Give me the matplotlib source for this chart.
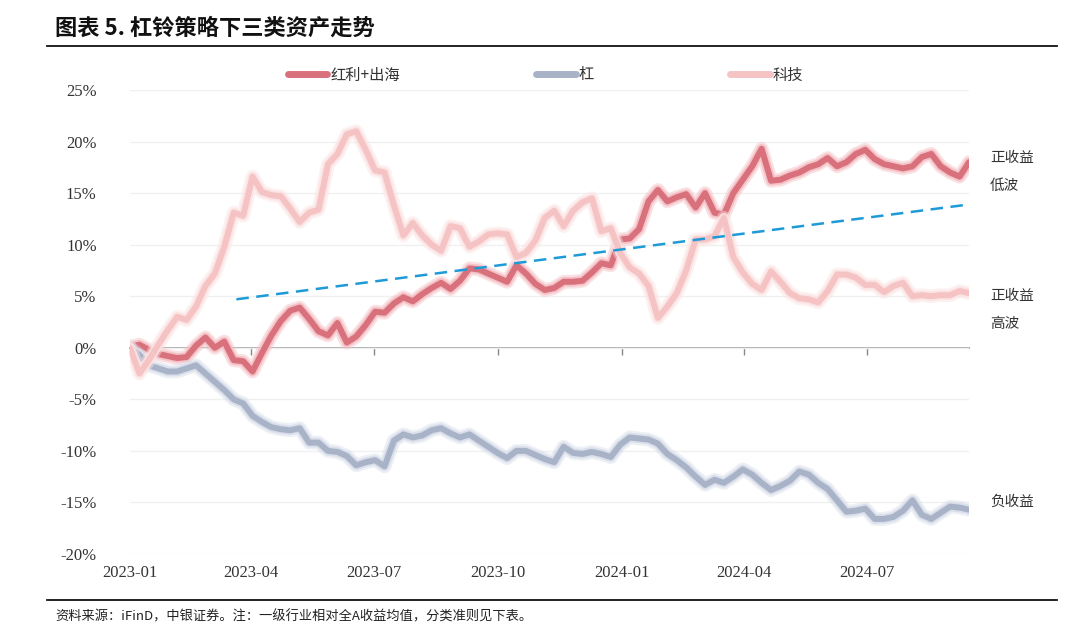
import matplotlib
matplotlib.use('Agg')
import matplotlib.pyplot as plt
import matplotlib.dates as mdates
from matplotlib.lines import Line2D
import pandas as pd

plt.rcParams['font.family'] = ['Noto Sans CJK SC', 'DejaVu Sans']

# weekly data, % excess return
start_date = '2023-01-01'

dividend_export = [
    0.1, 0.3, -0.2, -0.6, -0.8, -1.0, -0.9, 0.2, 1.0, 0.0,
    0.6, -1.2, -1.3, -2.3, -0.5, 1.2, 2.6, 3.6, 3.9, 2.8,
    1.6, 1.2, 2.4, 0.5, 1.1, 2.2, 3.5, 3.4, 4.3, 4.9,
    4.5, 5.2, 5.8, 6.3, 5.7, 6.5, 7.7, 7.6, 7.2, 6.8,
    6.4, 8.0, 7.2, 6.2, 5.6, 5.8, 6.4, 6.4, 6.5, 7.3,
    8.2, 8.0, 10.5, 10.6, 11.5, 14.2, 15.3, 14.2, 14.6, 14.9,
    13.6, 15.0, 13.1, 12.9, 15.0, 16.3, 17.6, 19.3, 16.2, 16.3,
    16.7, 17.0, 17.5, 17.8, 18.4, 17.6, 18.0, 18.8, 19.2, 18.3,
    17.8, 17.6, 17.4, 17.6, 18.5, 18.8, 17.6, 17.0, 16.6, 18.0,
]

leverage = [
    0.0, -0.7, -1.7, -2.0, -2.3, -2.3, -2.0, -1.7, -2.5, -3.3,
    -4.1, -5.0, -5.4, -6.6, -7.2, -7.7, -7.9, -8.0, -7.8, -9.2,
    -9.2, -10.0, -10.1, -10.5, -11.4, -11.1, -10.9, -11.5, -9.0, -8.4,
    -8.7, -8.5, -8.0, -7.8, -8.3, -8.7, -8.4, -9.0, -9.6, -10.2,
    -10.7, -10.0, -10.0, -10.4, -10.8, -11.1, -9.6, -10.2, -10.3, -10.1,
    -10.3, -10.6, -9.4, -8.7, -8.8, -8.9, -9.3, -10.3, -10.9, -11.6,
    -12.5, -13.3, -12.8, -13.1, -12.5, -11.8, -12.3, -13.1, -13.8, -13.4,
    -12.9, -12.0, -12.3, -13.1, -13.7, -14.8, -15.9, -15.8, -15.6, -16.6,
    -16.6, -16.4, -15.8, -14.8, -16.2, -16.6, -16.0, -15.4, -15.5, -15.7,
]

tech = [
    0.0, -2.5, -1.2, 0.3, 1.7, 3.0, 2.7, 4.0, 6.0, 7.2,
    9.8, 13.1, 12.8, 16.6, 15.1, 14.8, 14.7, 13.5, 12.2, 13.1,
    13.4, 17.8, 18.8, 20.7, 21.0, 19.2, 17.2, 17.0, 13.8, 10.9,
    12.1, 10.9, 10.0, 9.4, 11.8, 11.6, 9.8, 10.3, 11.0, 11.1,
    11.0, 8.8, 9.2, 10.4, 12.6, 13.3, 11.8, 13.3, 14.1, 14.5,
    11.3, 11.6, 9.2, 7.8, 7.2, 6.0, 2.9, 4.0, 5.3, 7.5,
    10.5, 10.5, 10.8, 12.6, 8.8, 7.3, 6.2, 5.6, 7.4, 6.4,
    5.3, 4.8, 4.7, 4.4, 5.5, 7.1, 7.1, 6.8, 6.1, 6.1,
    5.4, 6.0, 6.3, 5.0, 5.1, 5.0, 5.1, 5.1, 5.5, 5.3,
]

trend_dates = ['2023-03-21', '2024-09-15']
trend_vals = [4.7, 13.9]

series_names = ['红利+出海', '杠', '科技']
core_colors = ['#D9717D', '#A9B3C8', '#F5C3C3']
glow_colors = ['#F4BFC4', '#D8DEEA', '#FCE3E3']

dates = pd.date_range(start_date, periods=len(tech), freq='7D')

fig = plt.figure(figsize=(10.8, 6.42), dpi=100)
ax = fig.add_axes([130 / 1080, 1 - 554 / 642, 839 / 1080, 464 / 642])

for vals, c_core, c_glow in zip([dividend_export, leverage, tech], core_colors, glow_colors):
    # soft glow around each line
    ax.plot(dates, vals, color=c_glow, lw=10, solid_capstyle='round',
            solid_joinstyle='round', alpha=0.45)
    ax.plot(dates, vals, color=c_glow, lw=7, solid_capstyle='round',
            solid_joinstyle='round', alpha=0.9)
    ax.plot(dates, vals, color=c_core, lw=4.3, solid_capstyle='round',
            solid_joinstyle='round')

ax.plot(pd.to_datetime(trend_dates), trend_vals, color='#1E9BD7', lw=1.8,
        dashes=(5, 3))

ax.set_ylim(-20, 25)
ax.set_xlim(dates[0], dates[-1])
ax.set_yticks(range(-20, 26, 5))
ax.set_yticklabels([f'{v}%' for v in range(-20, 26, 5)],
                   fontfamily='Liberation Serif', fontsize=12, color='#333333')
ax.grid(axis='y', color='#F0F0F0', lw=1)
ax.set_axisbelow(True)
for s in ax.spines.values():
    s.set_visible(False)
ax.tick_params(axis='y', length=0, pad=24)

qticks = pd.to_datetime(['2023-01-01', '2023-04-01', '2023-07-01', '2023-10-01',
                         '2024-01-01', '2024-04-01', '2024-07-01'])
ax.set_xticks(qticks)
ax.xaxis.set_major_formatter(mdates.DateFormatter('%Y-%m'))
ax.tick_params(axis='x', length=0, pad=8, labelsize=12, labelcolor='#333333')
for lbl in ax.get_xticklabels():
    lbl.set_fontfamily('Liberation Serif')

# zero line with quarter ticks
zero_axis = ax.secondary_xaxis(20 / 45)
zero_axis.set_xticks(qticks)
zero_axis.tick_params(axis='x', length=5, width=1, color='#888888',
                      labelbottom=False, labeltop=False, direction='out')
zero_axis.spines['bottom'].set_color('#999999')
zero_axis.spines['bottom'].set_linewidth(1.2)
zero_axis.spines['top'].set_color('#999999')
zero_axis.spines['top'].set_linewidth(1.2)
zero_axis.xaxis.set_ticks_position('bottom')
zero_axis.set_xticklabels([])

handles = [Line2D([0], [0], color=c, lw=5, solid_capstyle='round') for c in core_colors]
fig.legend(handles, series_names, loc='center', bbox_to_anchor=(0.505, 1 - 75 / 642),
           ncol=3, frameon=False, fontsize=11, handlelength=2.6, handletextpad=0.2,
           columnspacing=8.9, labelcolor='#333333')

fig.text(55 / 1080, 1 - 28 / 642, '图表 5. 杠铃策略下三类资产走势', fontsize=16,
         fontweight='bold', va='center', ha='left', color='#111111')
fig.add_artist(Line2D([47 / 1080, 1057 / 1080], [1 - 46 / 642, 1 - 46 / 642],
                      color='#111111', lw=1.3))
fig.add_artist(Line2D([47 / 1080, 1057 / 1080], [1 - 600 / 642, 1 - 600 / 642],
                      color='#111111', lw=1.3))
fig.text(55 / 1080, 1 - 617 / 642,
         '资料来源：iFinD，中银证券。注：一级行业相对全A收益均值，分类准则见下表。',
         fontsize=9.5, va='center', ha='left', color='#222222')

side_labels = [('正收益', 158), ('低波', 186), ('正收益', 296), ('高波', 324), ('负收益', 502)]
for txt, ypx in side_labels:
    fig.text(990 / 1080, 1 - ypx / 642, txt, fontsize=10.5, va='center', ha='left',
             color='#333333')

fig.savefig('out.png', dpi=100)
